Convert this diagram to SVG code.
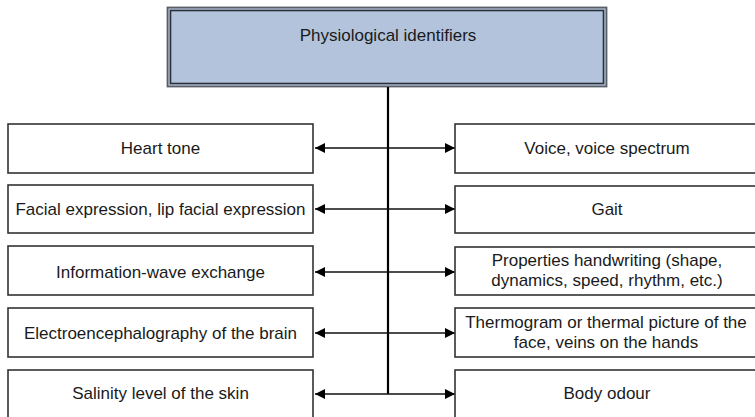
<svg xmlns="http://www.w3.org/2000/svg" width="755" height="417" viewBox="0 0 755 417">
  <defs>
    <style>
      .box { fill: #ffffff; stroke: #333333; stroke-width: 1.6; }
      .lbl { font-family: "Liberation Sans", Arial, sans-serif; font-size: 17px; fill: #1a1a1a; text-anchor: middle; }
      .conn { stroke: #111111; stroke-width: 1.6; fill: none; }
      .trunk { stroke: #000000; stroke-width: 2.2; fill: none; }
    </style>
    <marker id="arrow" viewBox="0 0 10 10" refX="10" refY="5" markerWidth="13" markerHeight="10" markerUnits="userSpaceOnUse" orient="auto">
      <path d="M0,0 L10,5 L0,10 z" fill="#000000"/>
    </marker>
  </defs>

  <rect width="755" height="417" fill="#ffffff"/>

  <!-- root node -->
  <g id="root">
    <rect x="167.5" y="7.5" width="439" height="79" fill="#b3c3dc" stroke="#5a5f66" stroke-width="1.8"/>
    <rect x="170.5" y="10.5" width="433" height="73" fill="none" stroke="#2b2f36" stroke-width="1.6"/>
    <text class="lbl" x="388" y="41">Physiological identifiers</text>
  </g>

  <!-- connectors -->
  <g id="connectors">
    <line class="trunk" x1="388" y1="87" x2="388" y2="394"/>
    <line class="conn" x1="388" y1="148" x2="315" y2="148" marker-end="url(#arrow)"/>
    <line class="conn" x1="388" y1="148" x2="455" y2="148" marker-end="url(#arrow)"/>
    <line class="conn" x1="388" y1="209" x2="315" y2="209" marker-end="url(#arrow)"/>
    <line class="conn" x1="388" y1="209" x2="455" y2="209" marker-end="url(#arrow)"/>
    <line class="conn" x1="388" y1="272" x2="315" y2="272" marker-end="url(#arrow)"/>
    <line class="conn" x1="388" y1="272" x2="455" y2="272" marker-end="url(#arrow)"/>
    <line class="conn" x1="388" y1="333" x2="315" y2="333" marker-end="url(#arrow)"/>
    <line class="conn" x1="388" y1="333" x2="455" y2="333" marker-end="url(#arrow)"/>
    <line class="conn" x1="388" y1="394" x2="315" y2="394" marker-end="url(#arrow)"/>
    <line class="conn" x1="388" y1="394" x2="455" y2="394" marker-end="url(#arrow)"/>
  </g>

  <!-- left column -->
  <g id="heart-tone">
    <rect class="box" x="8" y="124" width="305" height="49"/>
    <text class="lbl" x="160.5" y="154">Heart tone</text>
  </g>
  <g id="facial-expression">
    <rect class="box" x="8" y="185" width="305" height="48"/>
    <text class="lbl" x="160.5" y="215">Facial expression, lip facial expression</text>
  </g>
  <g id="information-wave">
    <rect class="box" x="8" y="246" width="305" height="49"/>
    <text class="lbl" x="160.5" y="278">Information-wave exchange</text>
  </g>
  <g id="eeg">
    <rect class="box" x="8" y="308" width="305" height="49"/>
    <text class="lbl" x="160.5" y="339">Electroencephalography of the brain</text>
  </g>
  <g id="salinity">
    <rect class="box" x="8" y="370" width="305" height="60"/>
    <text class="lbl" x="160.5" y="399">Salinity level of the skin</text>
  </g>

  <!-- right column -->
  <g id="voice">
    <rect class="box" x="455" y="124" width="305" height="49"/>
    <text class="lbl" x="607" y="154">Voice, voice spectrum</text>
  </g>
  <g id="gait">
    <rect class="box" x="455" y="186" width="305" height="47"/>
    <text class="lbl" x="607" y="215">Gait</text>
  </g>
  <g id="handwriting">
    <rect class="box" x="455" y="247" width="305" height="48"/>
    <text class="lbl" x="607" y="266">Properties handwriting (shape,</text>
    <text class="lbl" x="607" y="286">dynamics, speed, rhythm, etc.)</text>
  </g>
  <g id="thermogram">
    <rect class="box" x="455" y="308" width="305" height="49"/>
    <text class="lbl" x="606" y="328">Thermogram or thermal picture of the</text>
    <text class="lbl" x="606" y="348">face, veins on the hands</text>
  </g>
  <g id="body-odour">
    <rect class="box" x="455" y="370" width="305" height="60"/>
    <text class="lbl" x="607" y="399">Body odour</text>
  </g>
</svg>
